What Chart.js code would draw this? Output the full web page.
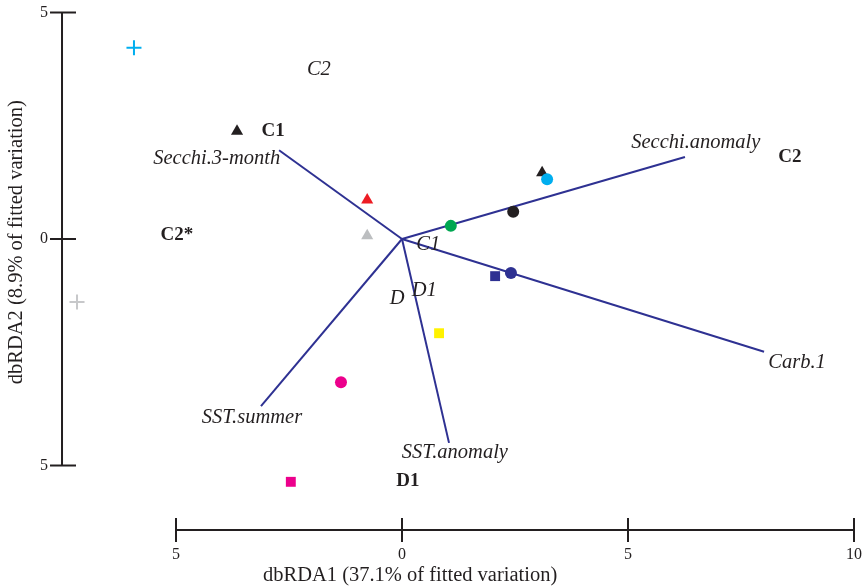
<!DOCTYPE html>
<html>
<head>
<meta charset="utf-8">
<script src="https://cdn.jsdelivr.net/npm/chart.js@4"></script>
<style>
html, body { margin: 0; padding: 0; background: #fff; }
#wrap { width: 863px; height: 588px; }
</style>
</head>
<body>
<div id="wrap"><canvas id="myChart"></canvas></div>
<script>
// sites (dbRDA1, dbRDA2)
var siteX = [-5.93, -7.19, -3.65, -0.77, -0.77, 1.08, 2.46, 3.21, 3.10, 2.06, 2.41, 0.82, -1.35, -2.46]
var siteY = [4.22, -1.39, 2.38, 0.86, 0.07, 0.29, 0.60, 1.32, 1.46, -0.82, -0.75, -2.08, -3.16, -5.36]

// environmental vectors
var envNames = ['Secchi.3-month', 'Secchi.anomaly', 'Carb.1', 'SST.anomaly', 'SST.summer']
var envX = [-2.72, 6.26, 8.01, 1.04, -3.12]
var envY = [1.96, 1.81, -2.49, -4.50, -3.69]
var envLabelX = [-4.10, 6.50, 8.74, 1.17, -3.32]
var envLabelY = [1.77, 2.12, -2.72, -4.72, -3.95]

// group labels
var italicText = ['C2', 'C1', 'D', 'D1']
var italicX = [-1.84, 0.58, -0.11, 0.49]
var italicY = [3.73, -0.13, -1.32, -1.15]
var boldText = ['C1', 'C2*', 'C2', 'D1']
var boldX = [-2.85, -4.98, 8.58, 0.13]
var boldY = [2.38, 0.09, 1.81, -5.34]

// axes
var xTicks = [-5, 0, 5, 10]
var xTickLabels = ['5', '0', '5', '10']
var yTicks = [-5, 0, 5]
var yTickLabels = ['5', '0', '5']
var xTitle = 'dbRDA1 (37.1% of fitted variation)'
var yTitle = 'dbRDA2 (8.9% of fitted variation)'

// marker styles
var siteShape = ['cross', 'cross', 'triangle', 'triangle', 'triangle', 'circle', 'circle', 'circle', 'triangle', 'rect', 'circle', 'rect', 'circle', 'rect']
var siteColor = ['#00aeef', '#c7c8ca', '#231f20', '#ed1c24', '#bcbec0', '#00a651', '#231f20', '#00aeef', '#231f20', '#2e3192', '#2e3192', '#fff200', '#ec008c', '#ec008c']
var shapeRadius = { cross: 7.5, triangle: 7, circle: 6, rect: 7 }

var ink = '#231f20'
var serif = '"Liberation Serif", "DejaVu Serif", serif'

var datasets = []
for (var i = 0; i < siteX.length; i++) {
	var shp = siteShape[i]
	datasets.push({
		data: [{ x: siteX[i], y: siteY[i] }],
		pointStyle: shp,
		pointRadius: shapeRadius[shp],
		backgroundColor: siteColor[i],
		borderColor: siteColor[i],
		borderWidth: shp == 'cross' ? 2 : 0
	})
}
for (var j = 0; j < envNames.length; j++) {
	datasets.push({
		type: 'line',
		data: [{ x: 0, y: 0 }, { x: envX[j], y: envY[j] }],
		borderColor: '#2e3192',
		borderWidth: 2,
		pointRadius: 0,
		showLine: true
	})
}

var xAxisAt = -6.424 // y value where the x axis is drawn
var yAxisAt = -7.522 // x value where the y axis is drawn

var axesPlugin = {
	id: 'axesAndLabels',
	afterDatasetsDraw: function (chart) {
		var c = chart.ctx
		var xs = chart.scales.x
		var ys = chart.scales.y
		c.save()
		c.strokeStyle = ink
		c.fillStyle = ink
		c.lineWidth = 2

		// x axis
		var ay = ys.getPixelForValue(xAxisAt)
		c.beginPath()
		c.moveTo(xs.getPixelForValue(xTicks[0]), ay)
		c.lineTo(xs.getPixelForValue(xTicks[xTicks.length - 1]), ay)
		c.stroke()
		c.font = '16px ' + serif
		c.textAlign = 'center'
		c.textBaseline = 'middle'
		xTicks.forEach(function (t, k) {
			var px = xs.getPixelForValue(t)
			c.beginPath()
			c.moveTo(px, ay - 12)
			c.lineTo(px, ay + 12)
			c.stroke()
			c.fillText(xTickLabels[k], px, ay + 25)
		})
		c.font = '20.5px ' + serif
		c.fillText(xTitle, xs.getPixelForValue(0.18), ay + 46)

		// y axis
		var ax = xs.getPixelForValue(yAxisAt)
		c.beginPath()
		c.moveTo(ax, ys.getPixelForValue(yTicks[0]))
		c.lineTo(ax, ys.getPixelForValue(yTicks[yTicks.length - 1]))
		c.stroke()
		c.font = '16px ' + serif
		c.textAlign = 'right'
		yTicks.forEach(function (t, k) {
			var py = ys.getPixelForValue(t)
			c.beginPath()
			c.moveTo(ax - 12, py)
			c.lineTo(ax + 14, py)
			c.stroke()
			c.fillText(yTickLabels[k], ax - 14, py)
		})
		c.save()
		c.translate(ax - 45, ys.getPixelForValue(-0.07))
		c.rotate(-Math.PI / 2)
		c.textAlign = 'center'
		c.font = '20.5px ' + serif
		c.fillText(yTitle, 0, 0)
		c.restore()

		// vector and group labels
		c.textAlign = 'center'
		c.font = 'italic 20.5px ' + serif
		envNames.forEach(function (n, k) {
			c.fillText(n, xs.getPixelForValue(envLabelX[k]), ys.getPixelForValue(envLabelY[k]))
		})
		italicText.forEach(function (n, k) {
			c.fillText(n, xs.getPixelForValue(italicX[k]), ys.getPixelForValue(italicY[k]))
		})
		c.font = 'bold 19px ' + serif
		boldText.forEach(function (n, k) {
			c.fillText(n, xs.getPixelForValue(boldX[k]), ys.getPixelForValue(boldY[k]))
		})
		c.restore()
	}
}

var ctx = document.getElementById('myChart').getContext('2d')
var myChart = new Chart(ctx, {
	type: 'scatter',
	data: { datasets: datasets },
	options: {
		responsive: true,
		maintainAspectRatio: false,
		animation: false,
		layout: { padding: 0, autoPadding: false },
		plugins: { legend: { display: false }, tooltip: { enabled: false } },
		scales: {
			x: { type: 'linear', display: false, min: -8.894, max: 10.199, bounds: 'data' },
			y: { type: 'linear', display: false, min: -7.704, max: 5.276, bounds: 'data' }
		}
	},
	plugins: [axesPlugin]
})
</script>
</body>
</html>
